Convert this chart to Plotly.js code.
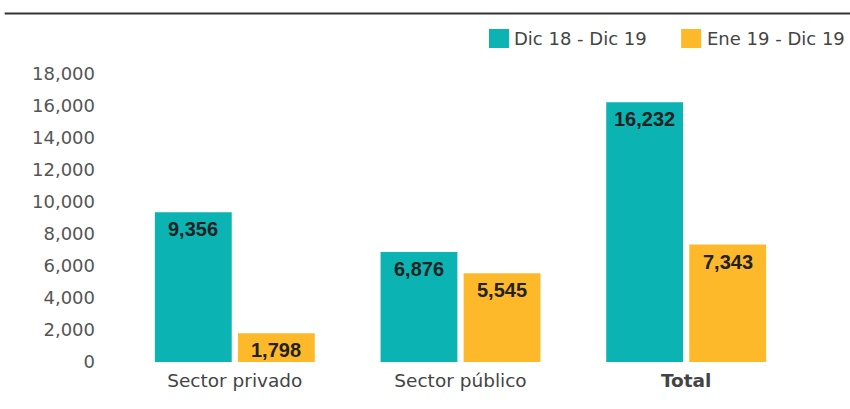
<!DOCTYPE html>
<html><head><meta charset="utf-8">
<script src="https://cdn.plot.ly/plotly-3.0.1.min.js"></script>
<style>body{margin:0;}#chart{width:850px;height:409px;}</style>
</head><body><div id="chart"></div>
<script>
const categories = ["Sector privado", "Sector público", "Total"];
const tickLabels = ["Sector privado", "Sector público", "<b>Total</b>"];
const seriesNames = ["Dic 18 - Dic 19", "Ene 19 - Dic 19"];
const dic18Dic19 = [9356, 6876, 16232];
const ene19Dic19 = [1798, 5545, 7343];
const yTicks = [0, 2000, 4000, 6000, 8000, 10000, 12000, 14000, 16000, 18000];

const FONT = "DejaVu Sans, sans-serif";
const LABEL_FONT = "Liberation Sans, Arial, sans-serif";
const COLORS = ["#0bb3b2", "#fdb92a"];
const fmt = v => v.toLocaleString("en-US");
const allSeries = [dic18Dic19, ene19Dic19];

const data = allSeries.map((vals, i) => ({
  type: "bar", name: seriesNames[i], x: categories, y: vals,
  marker: {color: COLORS[i]}, hoverinfo: "none", showlegend: false
}));

// value labels just inside the top of each bar
const annotations = [];
allSeries.forEach((vals, i) => {
  vals.forEach((v, j) => {
    annotations.push({
      x: categories[j], y: v, xref: "x", yref: "y",
      text: "<b>" + fmt(v) + "</b>", showarrow: false,
      xanchor: "center", yanchor: "middle",
      xshift: i === 0 ? -41.5 : 41.5, yshift: -17,
      font: {family: LABEL_FONT, size: 20, color: "#222222"}
    });
  });
});

// legend built from series names/colours
const legendSquares = [[0.5421, 0.5717], [0.8259, 0.8555]];
const legendText = [0.5761, 0.8613];
const shapes = [{type: "line", xref: "paper", yref: "paper", x0: -0.1733, x1: 1.0757,
                 y0: 1.2101, y1: 1.2101, line: {color: "#333333", width: 2}}];
seriesNames.forEach((n, i) => {
  shapes.push({type: "rect", xref: "paper", yref: "paper",
               x0: legendSquares[i][0], x1: legendSquares[i][1], y0: 1.0903, y1: 1.1563,
               fillcolor: COLORS[i], line: {width: 0}});
  annotations.push({x: legendText[i], y: 1.125, xref: "paper", yref: "paper",
                    xanchor: "left", yanchor: "middle", showarrow: false, text: n,
                    font: {family: FONT, size: 18, color: "#444444"}});
});

const layout = {
  width: 850, height: 409,
  margin: {l: 122.25, r: 51.25, t: 74, b: 47},
  paper_bgcolor: "#ffffff", plot_bgcolor: "#ffffff",
  font: {family: FONT, size: 16, color: "#555555"},
  barmode: "group", bargap: 0.2639, bargroupgap: 0.075,
  showlegend: false,
  xaxis: {tickmode: "array", tickvals: categories, ticktext: tickLabels,
          showline: false, showgrid: false, zeroline: false, ticks: "",
          ticklabelstandoff: 5,
          tickfont: {family: FONT, size: 18.5, color: "#444444"}},
  yaxis: {range: [0, 18000], tickmode: "array", tickvals: yTicks, ticktext: yTicks.map(fmt),
          showgrid: false, zeroline: false, showline: false, ticks: "",
          ticklabelstandoff: 26,
          tickfont: {family: FONT, size: 18, color: "#555555"}},
  shapes: shapes, annotations: annotations
};
Plotly.newPlot("chart", data, layout, {staticPlot: true});
</script></body></html>
